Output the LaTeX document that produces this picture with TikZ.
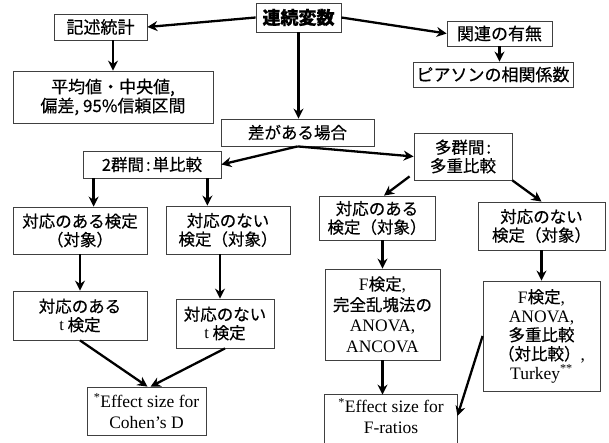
\documentclass[tikz,border=0pt]{standalone}
\usepackage{fontspec}
\setmainfont{Liberation Serif}
\newfontfamily\jp{Noto Sans CJK JP}[FakeBold=0.4]
\usetikzlibrary{arrows.meta}
\newcommand\sr[1]{{\rmfamily\mdseries\fontsize{17.5}{20.5}\selectfont #1}}
\begin{document}
\begin{tikzpicture}[x=1pt,y=-1pt,
  box/.style={draw=black!75, line width=0.8pt, inner sep=0pt, align=center,
    font=\jp\fontsize{16.5}{18.5}\selectfont, fill=white},
  bigjp/.style={font=\jp\fontsize{17}{19}\selectfont},
  serifbox/.style={font=\rmfamily\fontsize{17.5}{21}\selectfont},
  arr/.style={line width=2.3pt, -{Stealth[length=10pt,width=10pt]}},
  boxline/.style={draw=black!75, line width=0.8pt}
]
\fill[white] (0,0) rectangle (609,442);
\useasboundingbox (0,0) rectangle (609,442);

\node[box, minimum width=85pt, minimum height=29pt, font=\jp\bfseries\fontsize{18}{20}\selectfont] (A) at (298.5,17.5) {連続変数};
\node[box, bigjp, minimum width=93pt, minimum height=26pt] (B) at (100.5,27) {記述統計};
\node[box, bigjp, minimum width=200pt, minimum height=52pt] (C) at (113,97) {平均値・中央値,\\偏差, 95\%信頼区間};
\node[box, bigjp, minimum width=105pt, minimum height=25pt] (D) at (499.5,33.5) {関連の有無};
\node[box, bigjp, minimum width=160pt, minimum height=25pt] (E) at (493,74.5) {ピアソンの相関係数};
\node[box, minimum width=153pt, minimum height=27pt] (F) at (297.5,132.5) {差がある場合};
\node[box, minimum width=138pt, minimum height=27pt] (G) at (152,164.5) {2群間\hspace{2pt}:\hspace{2pt}単比較};
\node[box, minimum width=98pt, minimum height=47pt] (H) at (463,156.5) {多群間\hspace{2pt}:\\多重比較};
\node[box, minimum width=134pt, minimum height=47pt] (I) at (80,230.5) {対応のある検定\\（対象）};
\node[box, minimum width=124pt, minimum height=48pt] (J) at (228,230) {対応のない\\検定（対象）};
\node[box, minimum width=116pt, minimum height=44pt] (K) at (377,218) {対応のある\\検定（対象）};
\node[box, minimum width=127pt, minimum height=48pt] (L) at (541.5,226) {対応のない\\検定（対象）};
\node[box, minimum width=134pt, minimum height=49pt] (M) at (80,315.5) {対応のある\\{\rmfamily t} 検定};
\node[box, minimum width=98pt, minimum height=49pt] (N) at (225,323.5) {対応のない\\{\rmfamily t} 検定};
\node[box, serifbox, minimum width=119pt, minimum height=48pt] (O) at (146.5,411) {\textsuperscript{*}Effect size for\\Cohen’s D};
\node[box, minimum width=115pt, minimum height=91pt, font=\jp\fontsize{16.5}{20.7}\selectfont] (P) at (382.5,314.5) {\sr{F}検定\sr{,}\\完全乱塊法の\\\sr{ANOVA,}\\\sr{ANCOVA}};
\node[box, minimum width=117pt, minimum height=110pt, font=\jp\fontsize{16.5}{19}\selectfont] (Q) at (541.5,336) {\sr{F}検定\sr{,}\\\sr{ANOVA,}\\多重比較\\（対比較）\sr{,}\\\sr{Turkey\textsuperscript{**}}};
\node[box, serifbox, draw=none, minimum width=132pt, minimum height=42pt] (R) at (391,416) {\textsuperscript{*}Effect size for\\F-ratios};
\draw[boxline] ([yshift=-20pt]R.south west) -- (R.north west) -- (R.north east) -- ([yshift=-20pt]R.south east);

\draw[arr] (A.west) -- (B.east);
\draw[arr] (A.east) -- (D.west);
\draw[arr] (A.south) -- (A.south |- F.north);
\draw[arr] (B.south -| C.north) -- (C.north);
\draw[arr] (D.south) -- (D.south |- E.north);
\draw[arr] (F.south) -- (G.east);
\draw[arr] (F.south) -- (H.west);
\draw[arr] ([xshift=11pt]G.south west) -- ([xshift=11pt]G.south west |- I.north);
\draw[arr] ([xshift=-14pt]G.south east) -- ([xshift=-14pt]G.south east |- J.north);
\draw[arr] ([xshift=-4pt,yshift=4pt]H.south west) -- ([xshift=7pt]K.north);
\draw[arr] (H.south east) -- (L.north);
\draw[arr] (I.south) -- (M.north);
\draw[arr] ([xshift=-8pt]J.south) -- ([xshift=-8pt]J.south |- N.north);
\draw[arr] (M.south) -- ([xshift=1pt]O.north);
\draw[arr] (N.south) -- ([xshift=4pt]O.north);
\draw[arr] (P.north |- K.south) -- (P.north);
\draw[arr] (L.south) -- (Q.north);
\draw[arr] (P.south) -- (P.south |- R.north);
\draw[arr] (Q.west) -- (R.east);
\end{tikzpicture}
\end{document}
